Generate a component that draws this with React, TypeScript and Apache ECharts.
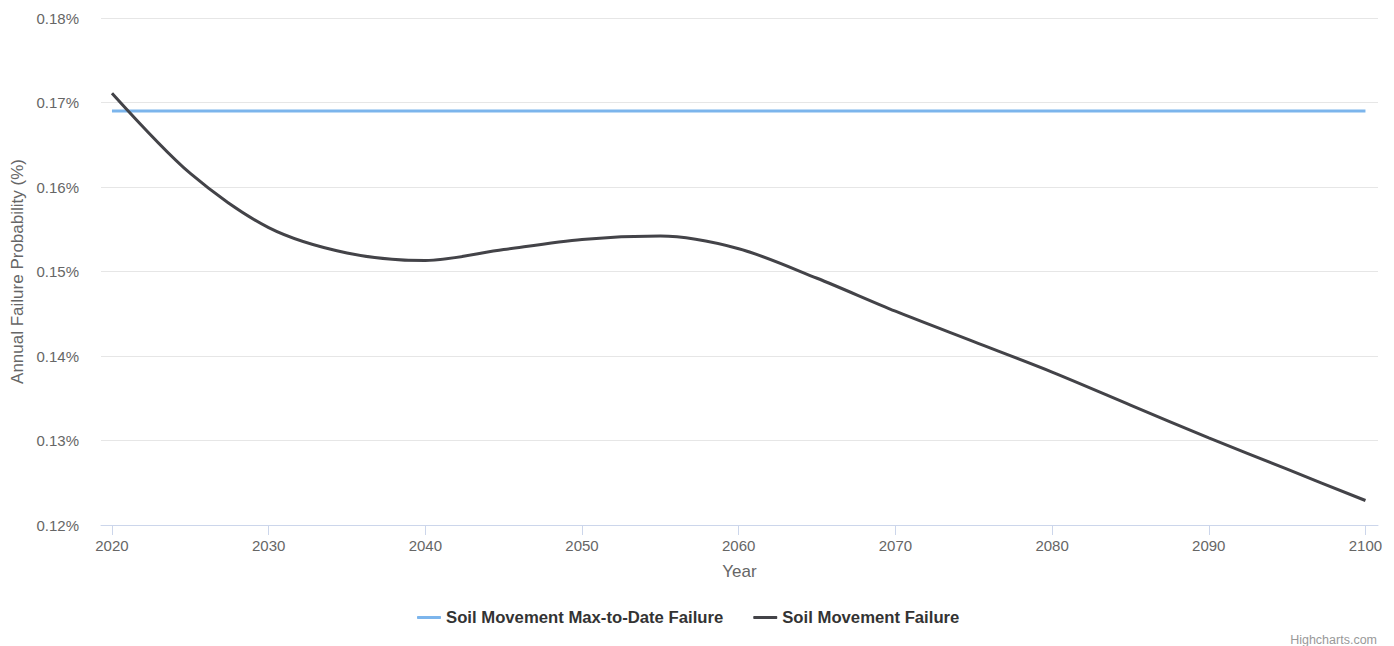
import React, { useEffect, useRef } from "react";
import * as echarts from "echarts";

const years = [2020, 2025, 2030, 2035, 2040, 2045, 2050, 2055, 2060, 2065, 2070, 2075, 2080, 2085, 2090, 2095, 2100];
const maxToDate = [0.169, 0.169, 0.169, 0.169, 0.169, 0.169, 0.169, 0.169, 0.169, 0.169, 0.169, 0.169, 0.169, 0.169, 0.169, 0.169, 0.169];
const failure = [0.1711, 0.1616, 0.1552, 0.1522, 0.1513, 0.1526, 0.1538, 0.1542, 0.1527, 0.1492, 0.1453, 0.1417, 0.1381, 0.1342, 0.1303, 0.1266, 0.1229];
const xTicks = [2020, 2030, 2040, 2050, 2060, 2070, 2080, 2090, 2100];
const seriesNames = ["Soil Movement Max-to-Date Failure", "Soil Movement Failure"];

const FONT = "'Liberation Sans', Arial, Helvetica, sans-serif";

export default function App() {
  const ref = useRef<HTMLDivElement>(null);
  useEffect(() => {
    document.body.style.margin = "0";
    const chart = echarts.init(ref.current!, null, { renderer: "svg" });
    chart.setOption({
      animation: false,
      backgroundColor: "#ffffff",
      textStyle: { fontFamily: FONT },
      grid: { left: 101, right: 16, top: 18, bottom: 121, containLabel: false },
      xAxis: {
        type: "value",
        min: 2019.3,
        max: 2100.8,
        name: "Year",
        nameLocation: "middle",
        nameGap: 38,
        nameTextStyle: { color: "#666666", fontSize: 17, fontFamily: FONT },
        axisLine: { show: true, lineStyle: { color: "#ccd6eb", width: 1 } },
        axisTick: { show: true, length: 10, lineStyle: { color: "#ccd6eb" }, customValues: xTicks },
        axisLabel: {
          color: "#666666",
          fontSize: 15,
          margin: 13,
          fontFamily: FONT,
          customValues: xTicks,
          formatter: (v: number) => String(v),
        },
        splitLine: { show: false },
      },
      yAxis: {
        type: "value",
        min: 0.12,
        max: 0.18,
        interval: 0.01,
        name: "Annual Failure Probability (%)",
        nameLocation: "middle",
        nameRotate: 90,
        nameGap: 75,
        nameTextStyle: { color: "#666666", fontSize: 17, fontFamily: FONT },
        axisLine: { show: false },
        axisTick: { show: false },
        axisLabel: {
          color: "#666666",
          fontSize: 15,
          margin: 22,
          fontFamily: FONT,
          formatter: (v: number) => v.toFixed(2) + "%",
        },
        splitLine: { show: true, lineStyle: { color: "#e6e6e6", width: 1 } },
      },
      legend: {
        left: 412,
        top: 604,
        icon: "roundRect",
        itemWidth: 24,
        itemHeight: 3,
        itemGap: 30,
        textStyle: { color: "#333333", fontSize: 16.7, fontWeight: "bold", fontFamily: FONT },
        data: seriesNames,
      },
      graphic: [
        {
          type: "text",
          right: 17,
          top: 633,
          style: { text: "Highcharts.com", fill: "#999999", fontSize: 12.5, fontFamily: FONT },
        },
      ],
      series: [
        {
          name: seriesNames[0],
          type: "line",
          data: years.map((y, i) => [y, maxToDate[i]]),
          symbol: "none",
          lineStyle: { color: "#7cb5ec", width: 3 },
          itemStyle: { color: "#7cb5ec" },
        },
        {
          name: seriesNames[1],
          type: "line",
          data: years.map((y, i) => [y, failure[i]]),
          symbol: "none",
          smooth: 0.3,
          lineStyle: { color: "#434348", width: 3 },
          itemStyle: { color: "#434348" },
        },
      ],
    });
    return () => chart.dispose();
  }, []);
  return <div ref={ref} style={{ position: "fixed", left: 0, top: 0, width: 1394, height: 646 }} />;
}
